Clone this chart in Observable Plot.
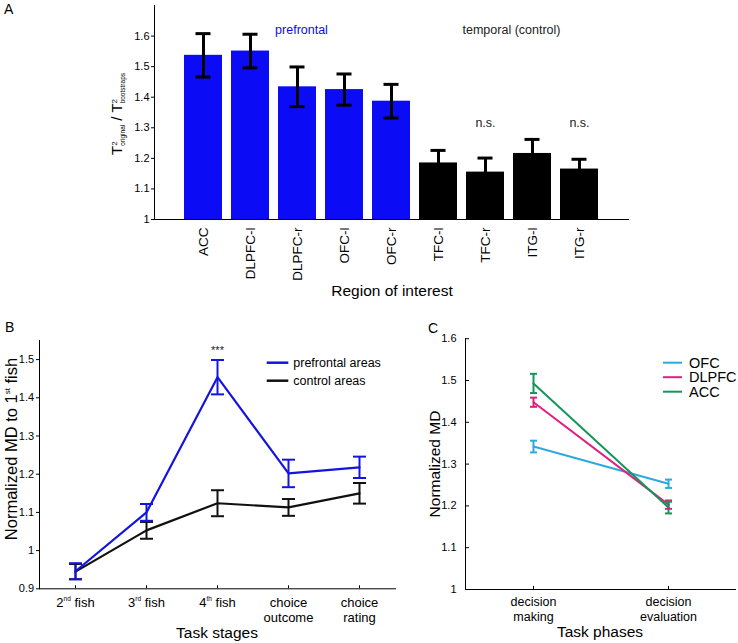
<!DOCTYPE html>
<html><head><meta charset="utf-8">
<script src="https://cdn.jsdelivr.net/npm/d3@7"></script>
<script src="https://cdn.jsdelivr.net/npm/@observablehq/plot@0.6"></script>
<style>
html,body{margin:0;padding:0;background:#fff;}
#fig{position:relative;width:738px;height:643px;overflow:hidden;background:#fff;}
#fig svg{position:absolute;overflow:visible;}
</style></head><body><div id="fig"></div>
<script>
// ---------- Panel A data ----------
const regions = ["ACC","DLPFC-l","DLPFC-r","OFC-l","OFC-r","TFC-l","TFC-r","ITG-l","ITG-r"];
const regionGroup = ["prefrontal","prefrontal","prefrontal","prefrontal","prefrontal","temporal","temporal","temporal","temporal"];
const ratio    = [1.537, 1.551, 1.434, 1.425, 1.387, 1.185, 1.155, 1.216, 1.165];
const ratioErr = [0.071, 0.055, 0.065, 0.051, 0.055, 0.041, 0.046, 0.046, 0.032];
const groupNames = ["prefrontal", "temporal (control)"];
const nsRegions = ["TFC-r", "ITG-r"];
const yTicksA = [1, 1.1, 1.2, 1.3, 1.4, 1.5, 1.6];

// ---------- Panel B data ----------
const stages = ["2nd fish", "3rd fish", "4th fish", "choice\noutcome", "choice\nrating"];
const seriesB = ["prefrontal areas", "control areas"];
const prefrontalMD  = [0.946, 1.100, 1.454, 1.202, 1.218];
const prefrontalErr = [0.021, 0.022, 0.045, 0.036, 0.028];
const controlMD     = [0.945, 1.053, 1.124, 1.113, 1.150];
const controlErr    = [0.020, 0.022, 0.034, 0.022, 0.027];
const sigStages = ["4th fish"];
const yTicksB = [0.9, 1, 1.1, 1.2, 1.3, 1.4, 1.5];

// ---------- Panel C data ----------
const phases = ["decision\nmaking", "decision\nevaluation"];
const seriesC = ["OFC", "DLPFC", "ACC"];
const ofcMD = [1.342, 1.253],   ofcErr = [0.014, 0.010];
const dlpfcMD = [1.448, 1.203], dlpfcErr = [0.011, 0.010];
const accMD = [1.493, 1.196],   accErr = [0.023, 0.014];
const yTicksC = [1, 1.1, 1.2, 1.3, 1.4, 1.5, 1.6];

const FONT = '"Liberation Sans", Arial, Helvetica, sans-serif';
const fmtTick = d => d === 1 ? "1" : d3.format(".1f")(d);
const fig = document.getElementById("fig");
const SVGNS = "http://www.w3.org/2000/svg";
// horizontal error-bar cap symbol (half-width = r)
const capSymbol = {draw(ctx, size) { const r = Math.sqrt(size / Math.PI); ctx.moveTo(-r, 0); ctx.lineTo(r, 0); }};

function place(svg, left, top) { svg.style.left = left + "px"; svg.style.top = top + "px"; fig.appendChild(svg); }

function addText(svg, {x, y, rotate = 0, anchor = "start", size = 12, weight = "normal", fill = "#000"}, parts) {
  const t = d3.select(svg).append("text")
    .attr("transform", `translate(${x},${y})` + (rotate ? ` rotate(${rotate})` : ""))
    .attr("text-anchor", anchor).attr("font-size", size).attr("font-weight", weight)
    .attr("font-family", FONT).attr("fill", fill);
  for (const [s, a] of parts) {
    const sp = t.append("tspan").text(s);
    if (a) for (const k in a) sp.attr(k, a[k]);
  }
  return t;
}
function supify(svg) {
  svg.querySelectorAll('g[aria-label="x-axis tick label"] text').forEach(text => {
    const leaves = text.querySelectorAll("tspan").length ? Array.from(text.querySelectorAll("tspan")) : [text];
    leaves.forEach(leaf => {
      const m = leaf.textContent.match(/^(.*?\d)(st|nd|rd|th)(.*)$/);
      if (!m) return;
      leaf.textContent = "";
      leaf.appendChild(document.createTextNode(m[1]));
      const sup = document.createElementNS(SVGNS, "tspan");
      sup.setAttribute("font-size", "0.5em"); sup.setAttribute("baseline-shift", "6");
      sup.textContent = m[2]; leaf.appendChild(sup);
      const rest = document.createElementNS(SVGNS, "tspan");
      rest.textContent = m[3]; leaf.appendChild(rest);
    });
  });
}
function legend(svg, names, colors, {x1, x2, tx, y0, step, size, sw, dyText}) {
  const g = d3.select(svg).append("g").attr("text-anchor", "start");
  names.forEach((s, i) => {
    const y = y0 + i * step;
    g.append("line").attr("x1", x1).attr("x2", x2).attr("y1", y).attr("y2", y).attr("stroke", colors[i]).attr("stroke-width", sw);
    g.append("text").attr("x", tx).attr("y", y + dyText).attr("text-anchor", "start")
      .attr("font-size", size).attr("font-family", FONT).attr("fill", "#000").text(s);
  });
}

// ================= Panel A =================
const rowsA = regions.map((r, i) => ({region: r, value: ratio[i], err: ratioErr[i], group: regionGroup[i]}));
const plotA = Plot.plot({
  width: 738, height: 305, marginLeft: 154, marginRight: 110, marginTop: 5, marginBottom: 86,
  style: {fontFamily: FONT, fontSize: "11px", background: "transparent", overflow: "visible", color: "#000"},
  x: {type: "band", domain: regions, paddingInner: 0.2, paddingOuter: 0.61, align: 0.5},
  y: {domain: [1, 1.7]},
  color: {domain: ["prefrontal", "temporal"], range: ["#0b0bf5", "#000000"]},
  marks: [
    Plot.barY(rowsA, {x: "region", y1: 1, y2: "value", fill: "group"}),
    Plot.ruleX(rowsA, {x: "region", y1: d => d.value - d.err, y2: d => d.value + d.err, stroke: "#000", strokeWidth: 3}),
    Plot.tickY(rowsA, {x: "region", y: d => d.value + d.err, stroke: "#000", strokeWidth: 3, insetLeft: 11.5, insetRight: 11.5}),
    Plot.tickY(rowsA, {x: "region", y: d => d.value - d.err, stroke: "#000", strokeWidth: 3, insetLeft: 11.5, insetRight: 11.5}),
    Plot.text([groupNames[0]], {x: () => "DLPFC-r", y: () => 1.62, text: d => d, dx: 4, fill: "#0b0bf5", fontSize: 12.5}),
    Plot.text([groupNames[1]], {x: () => "TFC-r", y: () => 1.62, text: d => d, dx: 26, fill: "#222", fontSize: 12.5}),
    Plot.text(nsRegions, {x: d => d, y: () => 1.316, text: () => "n.s.", fill: "#222", fontSize: 12.5}),
    Plot.frame({anchor: "left", stroke: "#000"}),
    Plot.frame({anchor: "bottom", stroke: "#000"}),
    Plot.axisY({ticks: yTicksA, tickFormat: fmtTick, tickSize: 3, tickPadding: 2, fontSize: 11, label: null}),
    Plot.axisX({tickRotate: -90, tickSize: 0, tickPadding: 8, fontSize: 13.5, label: null})
  ]
});
place(plotA, 0, 0);
addText(plotA, {x: 4, y: 14, size: 14}, [["A"]]);
addText(plotA, {x: 392, y: 296, anchor: "middle", size: 15.5}, [["Region of interest"]]);
addText(plotA, {x: 122, y: 114, rotate: -90, anchor: "middle", size: 15}, [
  ["T"], ["2", {"font-size": 8, "baseline-shift": 5}], ["original", {"font-size": 6.5, "baseline-shift": -3, dx: -4.4}],
  [" / T"], ["2", {"font-size": 8, "baseline-shift": 5}], ["bootstraps", {"font-size": 6.5, "baseline-shift": -3, dx: -4.4}]
]);

// ================= Panel B =================
const rowsB = [];
[1, 0].forEach(k => stages.forEach((st, i) => rowsB.push({
  series: seriesB[k], stage: st,
  value: k ? controlMD[i] : prefrontalMD[i],
  err: k ? controlErr[i] : prefrontalErr[i]
})));
const sigRows = sigStages.map(s => rowsB.find(r => r.stage === s && r.series === seriesB[0]));
const colB = ["#1414e0", "#111111"];
const plotB = Plot.plot({
  width: 400, height: 325, marginLeft: 39, marginRight: 5, marginTop: 22, marginBottom: 54.7,
  style: {fontFamily: FONT, fontSize: "11px", background: "transparent", overflow: "visible", color: "#000"},
  x: {type: "point", domain: stages, padding: 0.5},
  y: {domain: [0.9, 1.55]},
  color: {domain: seriesB, range: colB},
  marks: [
    Plot.line(rowsB, {x: "stage", y: "value", z: "series", stroke: "series", strokeWidth: 2.2}),
    Plot.ruleX(rowsB, {x: "stage", y1: d => d.value - d.err, y2: d => d.value + d.err, stroke: "series", strokeWidth: 2}),
    Plot.dot(rowsB, {x: "stage", y: d => d.value + d.err, symbol: capSymbol, r: 6.5, stroke: "series", strokeWidth: 2, fill: "none"}),
    Plot.dot(rowsB, {x: "stage", y: d => d.value - d.err, symbol: capSymbol, r: 6.5, stroke: "series", strokeWidth: 2, fill: "none"}),
    Plot.text(sigRows, {x: "stage", y: d => d.value + d.err, text: () => "***", dy: -10, fontSize: 11, fill: "#222"}),
    Plot.frame({anchor: "left", stroke: "#000"}),
    Plot.frame({anchor: "bottom", stroke: "#000"}),
    Plot.axisY({ticks: yTicksB, tickFormat: fmtTick, tickSize: 3, tickPadding: 2.4, fontSize: 11, label: null}),
    Plot.axisX({tickSize: -3, tickFormat: () => "", label: null}),
    Plot.axisX({tickSize: 0, tickPadding: 8, fontSize: 13, lineHeight: 1.12, label: null})
  ]
});
place(plotB, 0, 318);
supify(plotB);
addText(plotB, {x: 5, y: 14, size: 14}, [["B"]]);
addText(plotB, {x: 217, y: 319.7, anchor: "middle", size: 15.5}, [["Task stages"]]);
addText(plotB, {x: 17, y: 131, rotate: -90, anchor: "middle", size: 16.5}, [
  ["Normalized MD to 1"], ["st", {"font-size": 8, "baseline-shift": 7}], [" fish"]
]);
legend(plotB, seriesB, colB, {x1: 266.7, x2: 288.3, tx: 293.3, y0: 44.7, step: 18, size: 12.5, sw: 2.5, dyText: 4.5});

// ================= Panel C =================
const mdC = [ofcMD, dlpfcMD, accMD], errC = [ofcErr, dlpfcErr, accErr];
const rowsC = [];
seriesC.forEach((s, k) => phases.forEach((p, i) => rowsC.push({series: s, phase: p, value: mdC[k][i], err: errC[k][i]})));
const colC = ["#2ea9df", "#e11f80", "#139659"];
const plotC = Plot.plot({
  width: 338, height: 325, marginLeft: 65, marginRight: 3, marginTop: 20.2, marginBottom: 54,
  style: {fontFamily: FONT, fontSize: "11px", background: "transparent", overflow: "visible", color: "#000"},
  x: {type: "point", domain: phases, padding: 0.5},
  y: {domain: [1, 1.6]},
  color: {domain: seriesC, range: colC},
  marks: [
    Plot.line(rowsC, {x: "phase", y: "value", z: "series", stroke: "series", strokeWidth: 2}),
    Plot.ruleX(rowsC, {x: "phase", y1: d => d.value - d.err, y2: d => d.value + d.err, stroke: "series", strokeWidth: 2}),
    Plot.dot(rowsC, {x: "phase", y: d => d.value + d.err, symbol: capSymbol, r: 3.5, stroke: "series", strokeWidth: 2, fill: "none"}),
    Plot.dot(rowsC, {x: "phase", y: d => d.value - d.err, symbol: capSymbol, r: 3.5, stroke: "series", strokeWidth: 2, fill: "none"}),
    Plot.frame({anchor: "left", stroke: "#000"}),
    Plot.frame({anchor: "bottom", stroke: "#000"}),
    Plot.axisY({ticks: yTicksC, tickFormat: fmtTick, tickSize: -4, tickPadding: 13, fontSize: 11, label: null}),
    Plot.axisX({tickSize: -3, tickFormat: () => "", label: null}),
    Plot.axisX({tickSize: 0, tickPadding: 6.5, fontSize: 12.5, lineHeight: 1.18, label: null})
  ]
});
place(plotC, 400, 318);
addText(plotC, {x: 28, y: 15, size: 14}, [["C"]]);
addText(plotC, {x: 200, y: 318.7, anchor: "middle", size: 15.5}, [["Task phases"]]);
addText(plotC, {x: 40, y: 146, rotate: -90, anchor: "middle", size: 15.5}, [["Normalized MD"]]);
legend(plotC, seriesC, colC, {x1: 263, x2: 282, tx: 289, y0: 44.7, step: 14.5, size: 14.5, sw: 2, dyText: 5});
</script></body></html>
